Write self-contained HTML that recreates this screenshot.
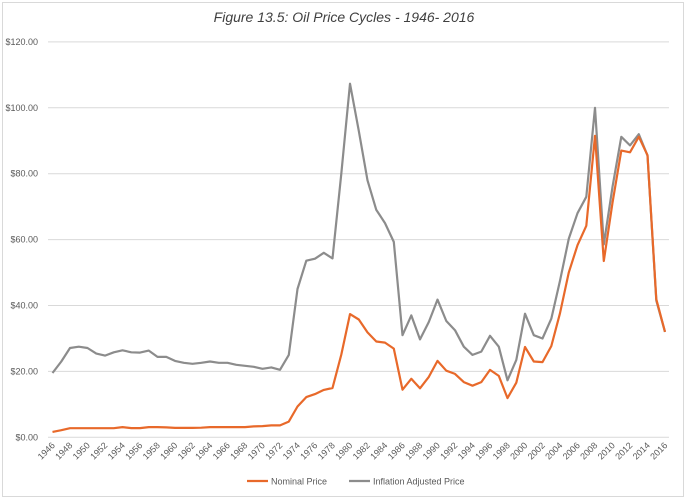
<!DOCTYPE html>
<html><head><meta charset="utf-8"><style>
html,body{margin:0;padding:0;background:#fff;}
svg{display:block;font-family:"Liberation Sans",sans-serif;}
</style></head><body>
<svg id="c" width="688" height="500" xmlns="http://www.w3.org/2000/svg">
<rect x="2.5" y="2.5" width="681" height="494" fill="#fff" stroke="#d9d9d9"/>
<text x="344" y="22" text-anchor="middle" font-size="14" font-style="italic" fill="#404040">Figure 13.5: Oil Price Cycles - 1946- 2016</text>
<g id="grid"></g>
<g id="xl"></g>
<polyline id="inf" fill="none" stroke="#8c8c8c" stroke-width="2.2" stroke-linejoin="round"/>
<polyline id="nom" fill="none" stroke="#e8692a" stroke-width="2.2" stroke-linejoin="round"/>
<line x1="247" y1="481" x2="268" y2="481" stroke="#e8692a" stroke-width="2.2"/>
<text x="271" y="484.5" font-size="9" fill="#595959">Nominal Price</text>
<line x1="349" y1="481" x2="370" y2="481" stroke="#8c8c8c" stroke-width="2.2"/>
<text x="373" y="484.5" font-size="9" fill="#595959">Inflation Adjusted Price</text>
</svg>
<script>
var nom=[1.63,2.16,2.77,2.77,2.77,2.77,2.77,2.77,3.1,2.8,2.8,3.1,3.1,3.0,2.85,2.85,2.85,2.9,3.1,3.1,3.1,3.1,3.1,3.3,3.39,3.6,3.6,4.75,9.35,12.21,13.1,14.4,14.95,25.1,37.4,35.75,31.83,29.08,28.75,26.92,14.44,17.75,14.87,18.33,23.19,20.2,19.25,16.75,15.66,16.75,20.46,18.64,11.91,16.56,27.39,23,22.81,27.69,37.66,50.04,58.3,64.2,91.5,53.5,71.2,87,86.5,91.2,85.6,41.9,32];
var inf=[19.5,23,27.1,27.5,27.1,25.4,24.8,25.8,26.4,25.8,25.7,26.3,24.4,24.4,23.2,22.6,22.3,22.6,23,22.6,22.6,22,21.7,21.4,20.8,21.2,20.5,25,45,53.6,54.2,56,54.3,80,107.3,93,78,69,65,59.3,31,37,29.7,35,41.8,35.3,32.5,27.5,25,26,30.8,27.5,17.3,23.5,37.5,31,30,36,47.5,60.3,68,73,100,58.5,76,91.2,88.6,92,85.5,41.5,32];
var X=function(i){return 52.5+i*8.75},Y=function(v){return 437.3-v*3.295};
var ns="http://www.w3.org/2000/svg",g=document.getElementById('grid'),xl=document.getElementById('xl');
for(var k=0;k<=6;k++){var y=Y(k*20);var l=document.createElementNS(ns,'line');
l.setAttribute('x1',48);l.setAttribute('x2',669);l.setAttribute('y1',y);l.setAttribute('y2',y);
l.setAttribute('stroke','#d9d9d9');l.setAttribute('stroke-width','1');g.appendChild(l);
var t=document.createElementNS(ns,'text');t.setAttribute('x',38);t.setAttribute('y',y+3);
t.setAttribute('text-anchor','end');t.setAttribute('font-size','9');t.setAttribute('fill','#595959');
t.textContent='$'+(k*20)+'.00';g.appendChild(t);}
for(var i=0;i<=70;i+=2){var x=X(i);var t=document.createElementNS(ns,'text');
t.setAttribute('transform','translate('+(x+3)+',446) rotate(-45)');t.setAttribute('text-anchor','end');
t.setAttribute('font-size','9');t.setAttribute('fill','#595959');t.textContent=1946+i;xl.appendChild(t);}
function pts(a){return a.map(function(v,i){return X(i).toFixed(1)+','+Y(v).toFixed(1)}).join(' ')}
document.getElementById('nom').setAttribute('points',pts(nom));
document.getElementById('inf').setAttribute('points',pts(inf));
</script>
</body></html>
